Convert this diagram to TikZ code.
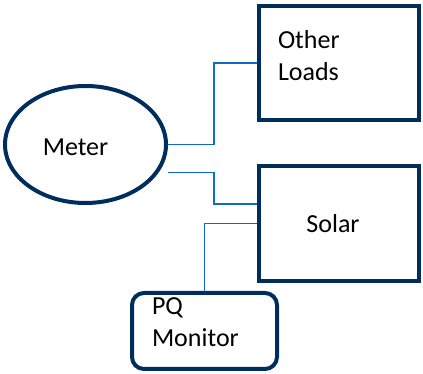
\documentclass[tikz,border=0pt]{standalone}
\usepackage{xcolor}
\definecolor{navy}{HTML}{002E5C}
\definecolor{wireblue}{HTML}{0B6DC8}
\usepackage{fontspec}
\setmainfont{Carlito}
\usepackage{tikz}
\usetikzlibrary{arrows.meta,positioning,calc,shapes.geometric}
\tikzset{
  meterell/.style={ellipse, draw=navy, line width=4pt, minimum width=161pt,
    minimum height=117pt, inner sep=0pt, font=\fontsize{26}{32}\selectfont},
  boxnavy/.style={rectangle, draw=navy, line width=4pt, minimum width=160pt,
    minimum height=114pt, inner sep=0pt, font=\fontsize{26}{32}\selectfont},
  boxleft/.style={boxnavy, align=left, text width=122pt, text depth=48pt},
  boxround/.style={rectangle, rounded corners=12pt, draw=navy, line width=4pt,
    minimum width=145pt, minimum height=76pt, inner sep=0pt, align=left,
    text width=105pt, text depth=49pt, font=\fontsize{26}{32}\selectfont},
  wire/.style={draw=wireblue, line width=1.6pt},
}
\begin{document}
\begin{tikzpicture}[x=1pt, y=1pt]
  \useasboundingbox (0,0) rectangle (423,374);
  \node[meterell, text height=23pt] (meter) at (85.5,229.5) {Meter\hspace*{20pt}};
  \node[boxleft] (loads) at (339,311) {Other\\Loads};
  \node[boxnavy, minimum height=115pt] (solar) at (339,150.5) {Solar\hspace*{12pt}};
  \node[boxround] (pq) at (204.5,43) {PQ\\Monitor};
  \coordinate (meterlow) at ($(meter.east)+(0,-28)$);
  \coordinate (solarhigh) at ($(solar.west)+(0,19.5)$);
  \draw[wire] (meter.east) -- ++(46,0) |- (loads.west);
  \draw[wire] (meterlow) -- ++(46,0) |- (solarhigh);
  \draw[wire] (solar.west) -| (pq.north);
\end{tikzpicture}
\end{document}
